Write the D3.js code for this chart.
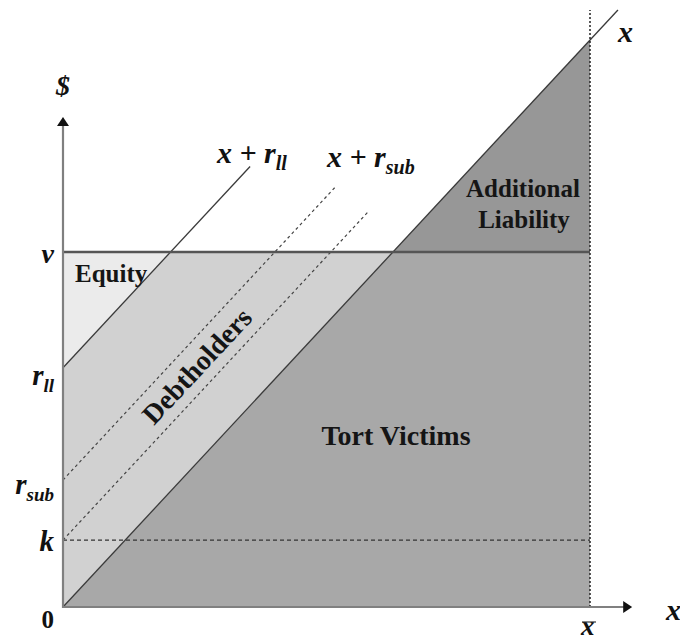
<!DOCTYPE html>
<html><head><meta charset="utf-8">
<script src="https://cdn.jsdelivr.net/npm/d3@7"></script>
<style>
html,body{margin:0;padding:0;background:#fff;}
svg{display:block;font-family:"Liberation Serif","Times New Roman",serif;}
</style></head>
<body>
<svg id="c" width="680" height="641"></svg>
<script>
// ---- data (in model units, x̄ = 100) ----
const xBar = 100;
const xMax = 105.3;           // end of the 45° line x
const yAxisTop = 86.4;        // arrow tip of $ axis
const xAxisEnd = 108;         // arrow tip of x axis
const tickValues = [0, 11.8, 22.4, 42.2, 62.6];
const tickMain   = ["0", "k", "r", "r", "v"];
const tickSub    = ["", "", "sub", "ll", ""];
const lineOffsets = [42.2, 22.4, 11.8];      // x + r_ll, x + r_sub, x + k
const lineEnds    = [35.5, 51.6, 57.9];      // x at which each line stops
const lineLabelMain = ["x + r", "x + r", ""];
const lineLabelSub  = ["ll", "sub", ""];
const vLevel = 62.6, rll = 42.2, kLevel = 11.8;
const regionNames = ["Equity", "Debtholders", "Tort Victims", "Additional", "Liability"];

// ---- scales ----
const x = d3.scaleLinear().domain([0, 100]).range([63, 590]);
const y = d3.scaleLinear().domain([0, 100]).range([607, 40]);
const svg = d3.select("#c");
const pt = d => [x(d[0]), y(d[1])];
const poly = pts => "M" + pts.map(pt).join("L") + "Z";

// regions
svg.append("path").attr("d", poly([[0, vLevel], [0, rll], [vLevel - rll, vLevel]])).attr("fill", "#ebebeb");
svg.append("path").attr("d", poly([[0, 0], [0, rll], [vLevel - rll, vLevel], [vLevel, vLevel]])).attr("fill", "#d1d1d1");
svg.append("path").attr("d", poly([[0, 0], [vLevel, vLevel], [xBar, vLevel], [xBar, 0]])).attr("fill", "#a8a8a8");
svg.append("path").attr("d", poly([[vLevel, vLevel], [xBar, xBar], [xBar, vLevel]])).attr("fill", "#979797");

// k dashed line
svg.append("line").attr("x1", x(0)).attr("x2", x(xBar)).attr("y1", y(kLevel)).attr("y2", y(kLevel))
  .attr("stroke", "#333").attr("stroke-width", 1.4).attr("stroke-dasharray", "4,3");

// offset lines
lineOffsets.forEach((o, i) => {
  svg.append("line").attr("x1", x(0)).attr("y1", y(o)).attr("x2", x(lineEnds[i])).attr("y2", y(lineEnds[i] + o))
    .attr("stroke", i === 0 ? "#3a3a3a" : "#444").attr("stroke-width", i === 0 ? 1.3 : 1.2)
    .attr("stroke-dasharray", i === 0 ? null : "3,3");
});

// 45° line x
svg.append("line").attr("x1", x(0)).attr("y1", y(0)).attr("x2", x(xMax)).attr("y2", y(xMax))
  .attr("stroke", "#3a3a3a").attr("stroke-width", 1.3);

// v line
svg.append("line").attr("x1", x(0)).attr("x2", x(xBar)).attr("y1", y(vLevel)).attr("y2", y(vLevel))
  .attr("stroke", "#555").attr("stroke-width", 2.4);

// x̄ dotted line
svg.append("line").attr("x1", x(xBar)).attr("x2", x(xBar)).attr("y1", y(0)).attr("y2", y(xMax))
  .attr("stroke", "#222").attr("stroke-width", 1.5).attr("stroke-dasharray", "2,2");

// axes lines with arrows
const axisCol = "#808080";
svg.append("line").attr("x1", x(0)).attr("x2", x(0)).attr("y1", y(0) + 1).attr("y2", y(yAxisTop) + 8)
  .attr("stroke", axisCol).attr("stroke-width", 2.2);
svg.append("path").attr("d", `M${x(0)},${y(yAxisTop)}L${x(0) - 6},${y(yAxisTop) + 9}L${x(0) + 6},${y(yAxisTop) + 9}Z`).attr("fill", "#111");
svg.append("line").attr("x1", x(0) - 1).attr("x2", x(xAxisEnd) - 8).attr("y1", y(0)).attr("y2", y(0))
  .attr("stroke", axisCol).attr("stroke-width", 2.2);
svg.append("path").attr("d", `M${x(xAxisEnd)},${y(0)}L${x(xAxisEnd) - 9},${y(0) - 6}L${x(xAxisEnd) - 9},${y(0) + 6}Z`).attr("fill", "#111");

// y tick labels via d3 axis
const labelDy = [20, 10, 14, 17, 10];
const labelSize = [25, 29, 29, 29, 28];
const yAxis = d3.axisLeft(y).tickValues(tickValues).tickSize(0).tickPadding(9).tickFormat(() => "");
const gA = svg.append("g").attr("transform", `translate(${x(0)},0)`).call(yAxis);
gA.select(".domain").remove();
gA.selectAll(".tick text").each(function (d, i) {
  const t = d3.select(this).attr("dy", null).attr("y", labelDy[i])
    .attr("font-family", "Liberation Serif, serif").attr("font-size", labelSize[i]).attr("font-weight", "bold")
    .attr("fill", "#111").attr("font-style", i === 0 ? "normal" : "italic");
  t.append("tspan").text(tickMain[i]);
  if (tickSub[i]) t.append("tspan").attr("dy", 7).attr("font-size", 19).text(tickSub[i]);
});

// line labels
const lblPos = [[217, 163], [327, 167]];
lineLabelMain.forEach((m, i) => {
  if (!m) return;
  const t = svg.append("text").attr("x", lblPos[i][0]).attr("y", lblPos[i][1])
    .attr("font-size", 30).attr("font-style", "italic").attr("font-weight", "bold").attr("fill", "#111");
  t.append("tspan").text(m);
  t.append("tspan").attr("dy", 7).attr("font-size", 20).text(lineLabelSub[i]);
});

// other math labels
const mathTxt = (tx, ty, s, size) => svg.append("text").attr("x", tx).attr("y", ty).text(s)
  .attr("font-size", size).attr("font-style", "italic").attr("font-weight", "bold").attr("fill", "#111");
mathTxt(618, 42, "x", 30);
mathTxt(666, 620, "x", 30);
mathTxt(x(0) - 7, 95, "$", 28);
mathTxt(x(xBar) - 9, 635, "x", 27);
svg.append("line").attr("x1", x(xBar) - 8).attr("x2", x(xBar) + 6).attr("y1", 622).attr("y2", 622)
  .attr("stroke", "#333").attr("stroke-width", 1.2);

// region labels
const reg = (tx, ty, s, anchor) => svg.append("text").attr("x", tx).attr("y", ty).text(s)
  .attr("font-size", 25).attr("font-weight", "bold").attr("fill", "#151515").attr("text-anchor", anchor || "start");
reg(75, 282, regionNames[0]);
reg(x(63.2), 445, regionNames[2], "middle").attr("font-size", 28);
reg(523, 197, regionNames[3], "middle");
reg(524, 228, regionNames[4], "middle");
// Debtholders along diagonal, centered between x+r_sub and x+k
const angle = Math.atan2(y(0) - y(100), x(100) - x(0)) * 180 / Math.PI;
const dx0 = 25.4, dy0 = dx0 + (22.4 + 11.8) / 2;
svg.append("text").attr("transform", `translate(${x(dx0)},${y(dy0)}) rotate(${-angle})`)
  .attr("text-anchor", "middle").attr("dominant-baseline", "central")
  .attr("font-size", 28).attr("font-weight", "bold").attr("fill", "#151515").text(regionNames[1]);
</script>
</body></html>
